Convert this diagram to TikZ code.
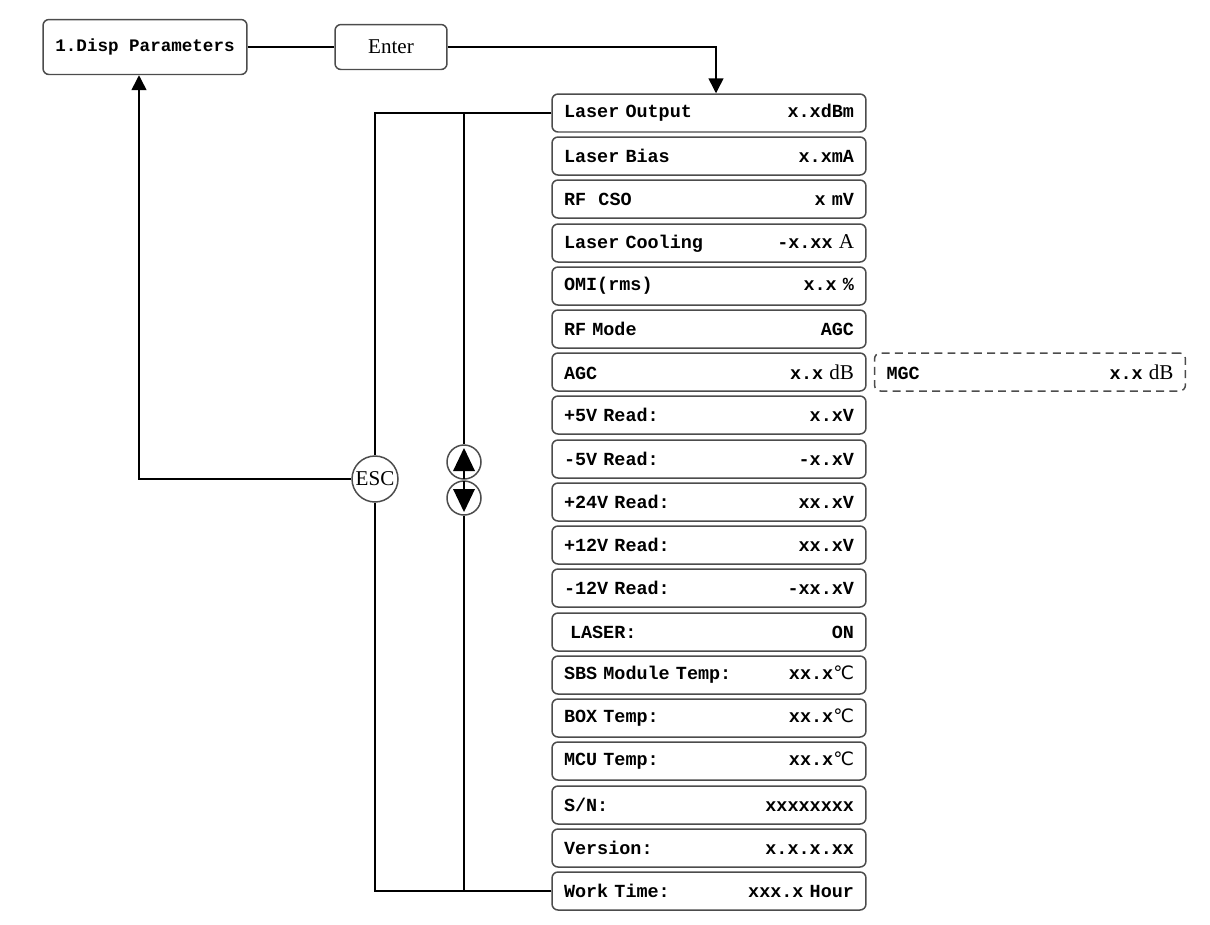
\documentclass[tikz,border=0pt]{standalone}
\usepackage{fontspec}
\setmainfont{Liberation Serif}
\setmonofont{Liberation Mono}
\newfontfamily\degfont{DejaVu Sans}
\usetikzlibrary{arrows.meta}

\begin{document}
\begin{tikzpicture}[x=0.02cm, y=-0.02cm, line width=0.85pt,
	menu/.style={draw=black!70, rounded corners=0.12cm, minimum width=6.28cm, minimum height=0.76cm, text width=5.8cm, inner xsep=0.24cm, inner ysep=0pt, font=\ttfamily\bfseries\fontsize{10.5}{12}\selectfont},
	key/.style={draw=black!70, rounded corners=0.12cm, inner sep=0pt},
	btn/.style={draw=black!70, circle, inner sep=0pt},
	arr/.style={-{Triangle[length=0.3cm, width=0.3cm]}}]
	
	\useasboundingbox (0,0) rectangle (1210,924);
	
	% Menu chinh
	\node[key, minimum width=4.08cm, minimum height=1.1cm, font=\ttfamily\bfseries\fontsize{10}{12}\selectfont] (disp) at (145,47) {1.Disp Parameters};
	\node[key, minimum width=2.24cm, minimum height=0.9cm, font=\fontsize{12}{14}\selectfont] (enter) at (391,47) {Enter};
	
	% Danh sach thong so
	\node[menu] (out) at (709,113) {Laser Output\hfill x.xdBm};
	\node[menu] (bias) at (709,156) {Laser Bias\hfill x.xmA};
	\node[menu] (cso) at (709,199) {RF\ \ CSO\hfill x mV};
	\node[menu] (cool) at (709,243) {Laser Cooling\hfill -x.xx {\rmfamily\mdseries\fontsize{12}{12}\selectfont A}};
	\node[menu] (omi) at (709,286) {OMI(rms)\hfill x.x \%};
	\node[menu] (mode) at (709,329) {RF Mode\hfill AGC};
	\node[menu] (agc) at (709,372) {AGC\hfill x.x {\rmfamily\mdseries\fontsize{12}{12}\selectfont dB}};
	\node[menu] (p5) at (709,415) {+5V Read:\hfill x.xV};
	\node[menu] (m5) at (709,459) {-5V Read:\hfill -x.xV};
	\node[menu] (p24) at (709,502) {+24V Read:\hfill xx.xV};
	\node[menu] (p12) at (709,545) {+12V Read:\hfill xx.xV};
	\node[menu] (m12) at (709,588) {-12V Read:\hfill -xx.xV};
	\node[menu] (laser) at (709,632) {\hspace{0.12cm}LASER:\hfill ON};
	\node[menu] (sbs) at (709,675) {SBS Module Temp:\hfill xx.x{\degfont\mdseries ℃}};
	\node[menu] (box) at (709,718) {BOX Temp:\hfill xx.x{\degfont\mdseries ℃}};
	\node[menu] (mcu) at (709,761) {MCU Temp:\hfill xx.x{\degfont\mdseries ℃}};
	\node[menu] (sn) at (709,805) {S/N:\hfill xxxxxxxx};
	\node[menu] (ver) at (709,848) {Version:\hfill x.x.x.xx};
	\node[menu] (work) at (709,891) {Work Time:\hfill xxx.x Hour};
	
	% MGC
	\node[menu, dash pattern=on 4.5pt off 3pt, minimum width=6.22cm, text width=5.74cm] (mgc) at (1030,372) {MGC\hfill x.x {\rmfamily\mdseries\fontsize{12}{12}\selectfont dB}};
	
	% Nut bam
	\node[btn, minimum size=0.92cm, font=\fontsize{12}{14}\selectfont] (esc) at (375,479) {ESC};
	\node[btn, minimum size=0.68cm] (up) at (464,462) {};
	\node[btn, minimum size=0.68cm] (down) at (464,498) {};
	\fill[shift={(up)}] (-11,9) -- (11,9) -- (0,-14) -- cycle;
	\draw[shift={(up)}] (0,9) -- (0,17);
	\fill[shift={(down)}] (-11,-9) -- (11,-9) -- (0,14) -- cycle;
	\draw[shift={(down)}] (0,-9) -- (0,-17);
	
	% Duong noi
	\draw (disp) -- (enter);
	\draw[arr] (enter.east) -| ([xshift=0.14cm]out.north);
	\draw (out.west) -| (esc.north);
	\draw (work.west) -| (esc.south);
	\draw (out.west) -| (up.north);
	\draw (work.west) -| (down.south);
	\draw[arr] (esc.west) -| ([xshift=-0.12cm]disp.south);
\end{tikzpicture}
\end{document}
